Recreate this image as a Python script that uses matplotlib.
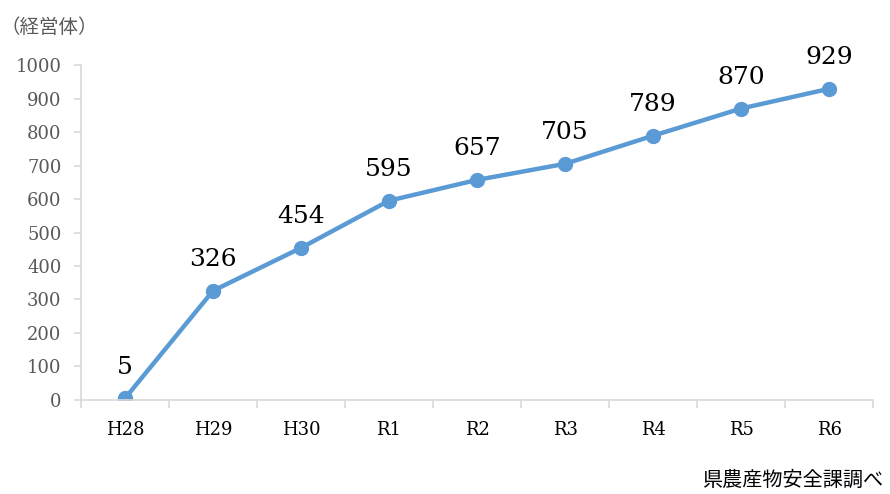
import numpy as np
import matplotlib.pyplot as plt

years = ['H28', 'H29', 'H30', 'R1', 'R2', 'R3', 'R4', 'R5', 'R6']
counts = [5, 326, 454, 595, 657, 705, 789, 870, 929]
yticks = list(range(0, 1001, 100))

serif = ['DejaVu Serif']
cjk = ['Noto Sans CJK JP', 'DejaVu Sans']
grey = '#d9d9d9'

fig = plt.figure(figsize=(8.9, 4.94), dpi=100)
ax = fig.add_axes([0.091, 0.1903, 0.890, 0.6781])

x = np.arange(len(years))
ax.plot(x, counts, color='#5b9bd5', linewidth=3.2, marker='o', markersize=10,
        solid_capstyle='round')

for xi, v in zip(x, counts):
    ax.annotate(str(v), (xi, v), xytext=(0, 14), textcoords='offset points',
                ha='center', va='bottom', fontsize=18, family=serif, color='black')

ax.set_xlim(-0.5, len(years) - 0.5)
ax.set_ylim(0, 1000)
ax.set_yticks(yticks)
ax.set_yticklabels([str(t) for t in yticks], family=serif, fontsize=13, color='#595959')

# category labels centered, tick marks at boundaries
ax.set_xticks(x)
ax.set_xticklabels(years, family=serif, fontsize=13, color='black')
ax.tick_params(axis='x', which='major', length=0, pad=15)
ax.set_xticks(np.arange(-0.5, len(years)), minor=True)
ax.tick_params(axis='x', which='minor', length=6, color=grey, width=1.2)
ax.tick_params(axis='y', length=5, color=grey, width=1.2, pad=9)

for s in ['top', 'right']:
    ax.spines[s].set_visible(False)
for s in ['left', 'bottom']:
    ax.spines[s].set_color(grey)
    ax.spines[s].set_linewidth(1.2)

fig.text(0.0, 0.945, '（経営体）', family=cjk, fontsize=14, color='#595959',
         ha='left', va='center')
fig.text(0.789, 0.006, '県農産物安全課調べ', family=cjk, fontsize=14.5, color='black',
         ha='left', va='bottom')

fig.savefig('out.png', dpi=100)
